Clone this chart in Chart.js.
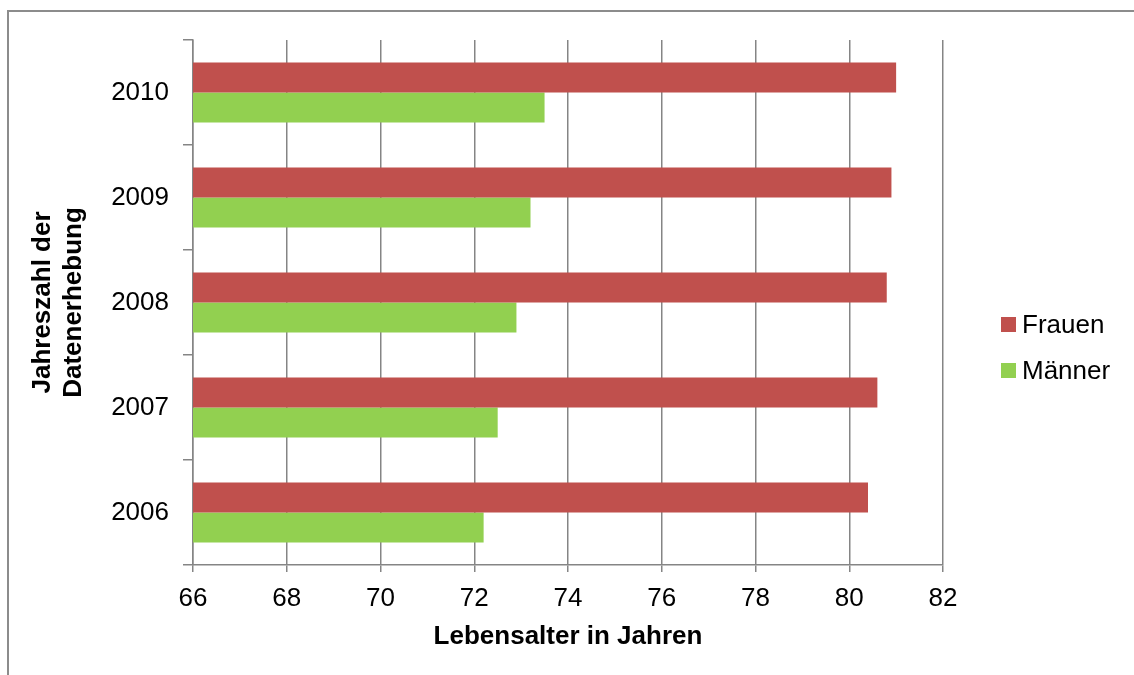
<!DOCTYPE html>
<html lang="de">
<head>
    <meta charset="UTF-8">
    <title>Lebenserwartung Frauen / Männer</title>
    <script src="https://cdn.jsdelivr.net/npm/chart.js"></script>
    <style>
        body {
            margin: 0;
            padding: 0;
            background-color: #ffffff;
            font-family: 'Liberation Sans', Arial, sans-serif;
        }
        .frame {
            position: absolute;
            left: 7px;
            top: 10px;
            width: 1200px;
            height: 700px;
            border-left: 2px solid #8c8c8c;
            border-top: 2px solid #8c8c8c;
        }
        .wrap {
            position: absolute;
            left: 0;
            top: 0;
            width: 1134px;
            height: 675px;
        }
        #legend {
            position: absolute;
            left: 1001px;
            top: 301px;
            font-size: 26px;
            color: #000;
        }
        #legend div {
            display: flex;
            align-items: center;
            height: 46px;
        }
        #legend span.box {
            display: inline-block;
            width: 15px;
            height: 15px;
            margin-right: 6px;
        }
    </style>
</head>
<body>
<div class="frame"></div>
<div class="wrap">
    <canvas id="lifeChart" width="1134" height="675"></canvas>
</div>
<div id="legend"></div>
<script>
    // Daten
    const jahre = ['2010', '2009', '2008', '2007', '2006'];
    const frauen = [81.0, 80.9, 80.8, 80.6, 80.4];
    const maenner = [73.5, 73.2, 72.9, 72.5, 72.2];
    const xTicks = [66, 68, 70, 72, 74, 76, 78, 80, 82];

    const farbeFrauen = '#C0504D';
    const farbeMaenner = '#92D050';
    const grau = '#858585';

    const ctx = document.getElementById('lifeChart').getContext('2d');
    const chart = new Chart(ctx, {
        type: 'bar',
        data: {
            labels: jahre,
            datasets: [
                { label: 'Frauen', data: frauen, backgroundColor: farbeFrauen },
                { label: 'Männer', data: maenner, backgroundColor: farbeMaenner }
            ]
        },
        options: {
            indexAxis: 'y',
            responsive: false,
            animation: false,
            categoryPercentage: 0.571,
            barPercentage: 1.0,
            layout: { padding: { top: 40, left: 27, right: 191, bottom: 23 } },
            plugins: {
                legend: { display: false },
                tooltip: { enabled: false }
            },
            scales: {
                x: {
                    min: xTicks[0],
                    max: xTicks[xTicks.length - 1],
                    afterBuildTicks: (axis) => { axis.ticks = xTicks.map(v => ({ value: v })); },
                    grid: { color: grau, lineWidth: 1.5, tickLength: 7 },
                    border: { color: grau, width: 1.5 },
                    ticks: { color: '#000', padding: 11, font: { size: 26, family: 'Liberation Sans' } },
                    title: {
                        display: true,
                        text: 'Lebensalter in Jahren',
                        color: '#000',
                        padding: 0,
                        font: { size: 26, weight: 'bold', family: 'Liberation Sans' }
                    },
                    afterFit: (scale) => { scale.height = 87; }
                },
                y: {
                    grid: { color: grau, lineWidth: 1.5, drawOnChartArea: false, tickLength: 10 },
                    border: { color: grau, width: 1.5 },
                    ticks: { color: '#000', padding: 14, font: { size: 26, family: 'Liberation Sans' } },
                    title: {
                        display: true,
                        text: ['Jahreszahl der', 'Datenerhebung'],
                        color: '#000',
                        padding: 0,
                        font: { size: 26, weight: 'bold', family: 'Liberation Sans' }
                    },
                    afterFit: (scale) => { scale.width = 166; }
                }
            }
        }
    });

    // Legende aus den Datensätzen
    const legend = document.getElementById('legend');
    chart.data.datasets.forEach(ds => {
        const row = document.createElement('div');
        const box = document.createElement('span');
        box.className = 'box';
        box.style.background = ds.backgroundColor;
        row.appendChild(box);
        row.appendChild(document.createTextNode(ds.label));
        legend.appendChild(row);
    });
</script>
</body>
</html>
